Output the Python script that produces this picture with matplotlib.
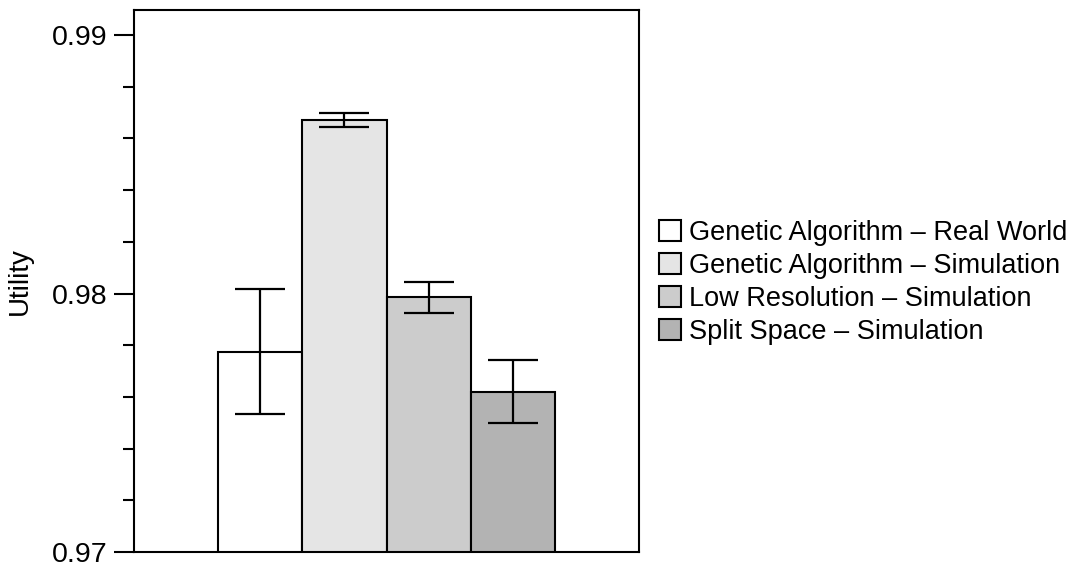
import matplotlib
matplotlib.use("Agg")
import matplotlib.pyplot as plt
from matplotlib.ticker import MultipleLocator

plt.rcParams['font.family'] = ['Liberation Sans', 'DejaVu Sans']

# mean utility and error half-width per method
labels = [
    "Genetic Algorithm \u2013 Real World",
    "Genetic Algorithm \u2013 Simulation",
    "Low Resolution \u2013 Simulation",
    "Split Space \u2013 Simulation",
]
utility = [0.97775, 0.98670, 0.97985, 0.97620]
errors = [0.00241, 0.00027, 0.00061, 0.00122]
fills = ["#ffffff", "#e5e5e5", "#cccccc", "#b3b3b3"]

fig = plt.figure(figsize=(10.74, 5.65), dpi=100)
ax = fig.add_axes([0.1248, 0.023, 0.4702, 0.9593])

xs = list(range(len(utility)))
bars = ax.bar(xs, utility, width=1.0, color=fills, edgecolor="black",
              linewidth=1.5)
ax.errorbar(xs, utility, yerr=errors, fmt="none", ecolor="black",
            elinewidth=1.6, capsize=18, capthick=1.6)

ax.set_xlim(-1.5, 4.5)
ax.set_ylim(0.97, 0.99097)
ax.set_xticks([])
ax.yaxis.set_major_locator(MultipleLocator(0.01))
ax.yaxis.set_minor_locator(MultipleLocator(0.002))
ax.yaxis.set_major_formatter(plt.FuncFormatter(lambda v, p: f"{v:.2f}"))
ax.tick_params(axis="y", which="major", length=14.4, width=1.5,
               labelsize=20.5, pad=5)
ax.tick_params(axis="y", which="minor", length=8, width=1.5)
for s in ax.spines.values():
    s.set_linewidth(1.5)

ax.set_ylabel("Utility", fontsize=20)
ax.yaxis.set_label_coords(-0.2, 0.5)

leg = ax.legend(bars, labels, loc="center left", bbox_to_anchor=(1.04, 0.497),
                frameon=False, fontsize=19.5, handlelength=0.8,
                handleheight=0.8, handletextpad=0.3, labelspacing=0.26,
                borderaxespad=0, borderpad=0)

fig.savefig("out.png", dpi=100)
